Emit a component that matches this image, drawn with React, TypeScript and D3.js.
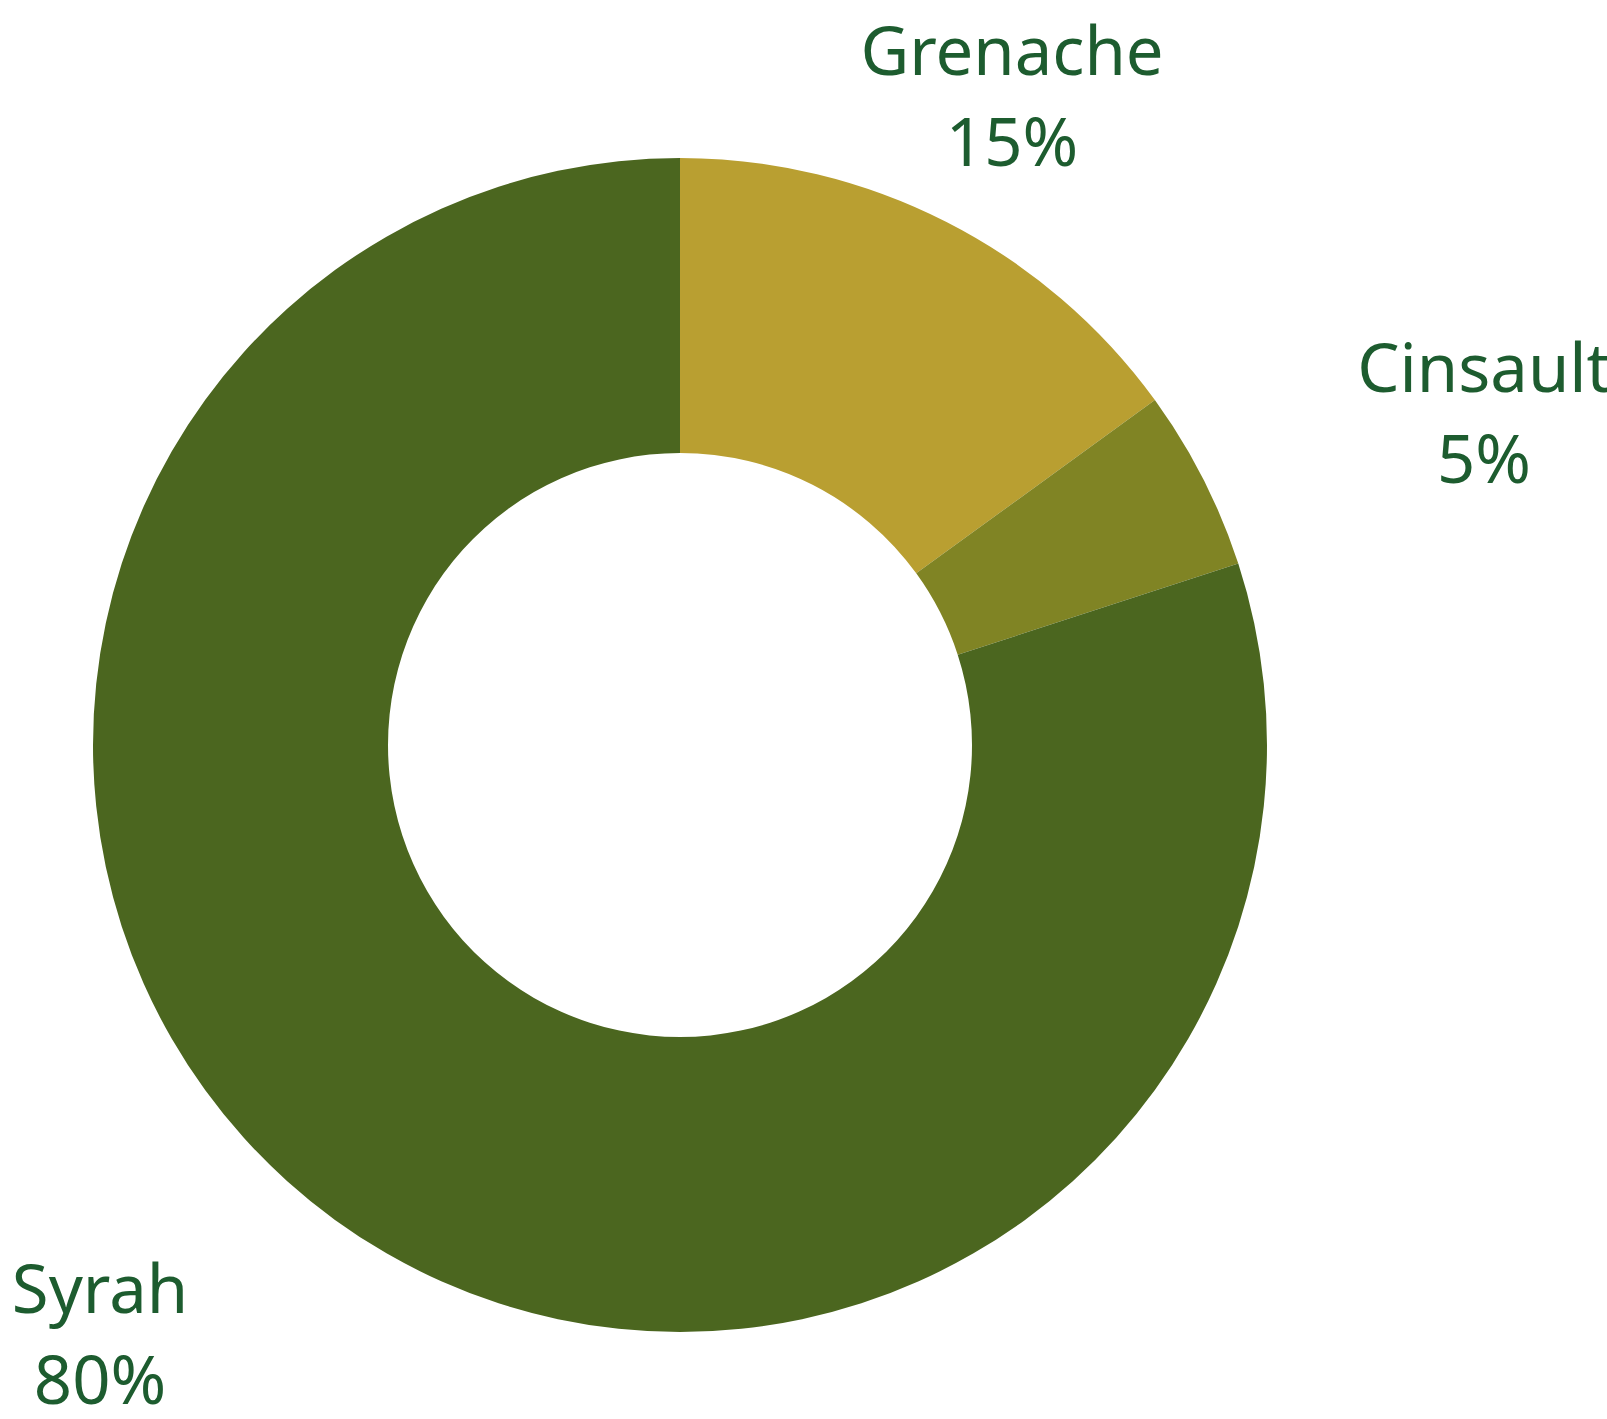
import React, { useEffect } from "react";
import * as d3 from "d3";

const categories = ["Grenache", "Cinsault", "Syrah"];
const shares = [15, 5, 80];
const colors = ["#b99f31", "#808424", "#4b661f"];

// layout (not data)
const W = 1607;
const H = 1419;
const CX = 680;
const CY = 745;
const R_OUT = 587;
const R_IN = 292;
const FONT_SIZE = 67;
const LINE_GAP = 91;
const TEXT_COLOR = "#1d5c2f";
const labelAnchors: [number, number][] = [
  [1012, 75],
  [1484, 392],
  [100, 1313],
];

export default function App() {
  useEffect(() => {
    document.body.style.margin = "0";
  }, []);

  const pie = d3
    .pie<number>()
    .sort(null)
    .value((d) => d)
    .startAngle(0)
    .endAngle(2 * Math.PI);
  const arcs = pie(shares);
  const arc = d3.arc<d3.PieArcDatum<number>>().innerRadius(R_IN).outerRadius(R_OUT);

  return (
    <svg width={W} height={H} style={{ display: "block" }}>
      <g transform={`translate(${CX},${CY})`}>
        {arcs.map((a, i) => (
          <path key={categories[i]} d={arc(a) || ""} fill={colors[i]} />
        ))}
      </g>
      {categories.map((c, i) => (
        <text
          key={c}
          x={labelAnchors[i][0]}
          y={labelAnchors[i][1]}
          textAnchor="middle"
          fill={TEXT_COLOR}
          fontFamily="'Noto Sans', sans-serif"
          fontSize={FONT_SIZE}
        >
          <tspan x={labelAnchors[i][0]}>{c}</tspan>
          <tspan x={labelAnchors[i][0]} dy={LINE_GAP}>
            {shares[i]}%
          </tspan>
        </text>
      ))}
    </svg>
  );
}
